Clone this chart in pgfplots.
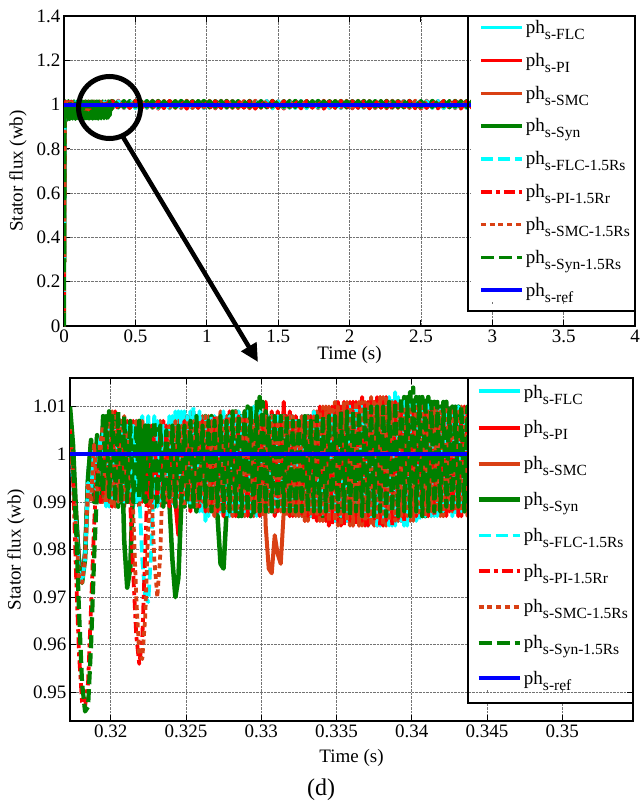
\documentclass[border=0pt]{standalone}
\usepackage{fontspec}
\setmainfont{Liberation Serif}
\usepackage{pgfplots}
\pgfplotsset{compat=1.18}
\usepackage{pgfplotstable}
\usetikzlibrary{arrows.meta}

\definecolor{cyanL}{rgb}{0,1,1}
\definecolor{redL}{rgb}{1,0,0}
\definecolor{smcL}{rgb}{0.85,0.25,0.08}
\definecolor{grnL}{rgb}{0,0.5,0}
\definecolor{bluL}{rgb}{0,0,1}

\newcommand{\lgd}[1]{ph\raisebox{-6bp}{\fontsize{15.5bp}{15.5bp}\selectfont #1}}

\pgfplotstableread{
t flc pi smc syn flcR piR smcR synR
0 0 0 0 0 0 0 0 0
0.006 0.99 0.99 0.99 0.99 0.99 0.99 0.99 0.99
0.01 1.012 0.978 1.013 1.015 0.977 1.014 0.978 0.936
0.02 0.978 1.013 0.977 0.930 1.012 0.978 1.013 1.014
0.03 1.013 0.977 1.012 1.016 0.978 1.013 0.977 0.928
0.04 0.977 1.014 0.978 0.934 1.013 0.977 1.012 1.015
0.05 1.012 0.978 1.013 1.014 0.977 1.014 0.978 0.937
0.06 0.978 1.013 0.977 0.936 1.012 0.978 1.013 1.014
0.07 1.013 0.977 1.012 1.015 0.978 1.013 0.977 0.938
0.08 0.977 1.012 0.978 0.935 1.013 0.977 1.012 1.015
0.09 1.012 0.978 1.013 1.014 0.977 1.014 0.978 0.937
0.10 0.978 1.013 0.977 0.938 1.012 0.978 1.013 1.014
0.11 1.013 0.977 1.012 1.015 0.978 1.013 0.977 0.936
0.12 0.977 1.014 0.978 0.937 1.013 0.977 1.012 1.015
0.13 1.012 0.978 1.013 1.014 0.977 1.014 0.978 0.938
0.14 0.978 1.013 0.977 0.936 1.012 0.978 1.013 1.014
0.15 1.013 0.977 1.012 1.015 0.978 1.013 0.977 0.937
0.16 0.977 1.012 0.978 0.938 1.013 0.977 1.012 1.015
0.17 1.012 0.978 1.013 1.014 0.977 1.014 0.978 0.936
0.18 0.978 1.013 0.977 0.937 1.012 0.978 1.013 1.014
0.19 1.013 0.977 1.012 1.015 0.978 1.013 0.977 0.938
0.20 0.977 1.014 0.978 0.936 1.013 0.977 1.012 1.015
0.21 1.012 0.978 1.013 1.014 0.977 1.014 0.978 0.937
0.22 0.978 1.013 0.977 0.938 1.012 0.978 1.013 1.014
0.23 1.013 0.977 1.012 1.015 0.978 1.013 0.977 0.937
0.24 0.977 1.012 0.978 0.936 1.013 0.977 1.012 1.015
0.25 1.012 0.978 1.013 1.014 0.977 1.014 0.978 0.938
0.26 0.978 1.013 0.977 0.937 1.012 0.978 1.013 1.014
0.27 1.013 0.977 1.012 1.015 0.978 1.013 0.977 0.936
0.28 0.977 1.014 0.978 0.938 1.013 0.977 1.012 1.015
0.29 1.012 0.978 1.013 1.014 0.977 1.014 0.978 0.937
0.30 0.978 1.013 0.977 0.939 1.012 0.978 1.013 1.014
0.31 1.013 0.977 1.012 1.015 0.978 1.013 0.977 0.940
0.32 0.977 1.012 0.978 0.950 1.013 0.977 1.012 1.015
0.33 1.012 0.980 1.013 1.014 0.980 1.014 0.980 0.975
0.34 1.016 0.984 1.015 1.017 0.984 1.016 0.986 0.989
0.38 0.985 1.018 0.986 0.990 1.016 0.981 1.017 1.016
0.42 1.015 0.983 1.016 1.016 0.985 1.015 0.985 0.988
0.46 0.984 1.017 0.985 0.989 1.017 0.984 1.016 1.017
0.50 1.016 0.985 1.014 1.017 0.983 1.017 0.986 0.990
0.54 0.986 1.016 0.986 0.988 1.015 0.980 1.018 1.016
0.58 1.017 0.984 1.015 1.016 0.985 1.016 0.984 0.989
0.62 0.984 1.018 0.985 0.990 1.016 0.984 1.016 1.017
0.66 1.015 0.981 1.016 1.017 0.984 1.015 0.986 0.988
0.70 0.985 1.017 0.986 0.989 1.017 0.983 1.017 1.016
0.74 1.016 0.984 1.015 1.016 0.982 1.017 0.985 0.990
0.78 0.986 1.016 0.984 0.988 1.016 0.985 1.016 1.017
0.82 1.017 0.983 1.016 1.017 0.985 1.016 0.986 0.989
0.86 0.984 1.018 0.985 0.990 1.015 0.981 1.017 1.016
0.90 1.015 0.985 1.015 1.016 0.984 1.015 0.984 0.988
0.94 0.985 1.017 0.986 0.989 1.017 0.984 1.016 1.017
0.98 1.016 0.984 1.016 1.017 0.983 1.017 0.986 0.990
1.02 0.986 1.016 0.985 0.988 1.016 0.983 1.018 1.016
1.06 1.017 0.982 1.015 1.016 0.985 1.016 0.985 0.989
1.10 0.984 1.018 0.986 0.990 1.016 0.984 1.016 1.017
1.14 1.015 0.985 1.016 1.017 0.984 1.015 0.986 0.988
1.18 0.985 1.017 0.984 0.989 1.017 0.982 1.017 1.016
1.22 1.016 0.984 1.015 1.016 0.983 1.017 0.984 0.990
1.26 0.986 1.016 0.986 0.988 1.015 0.985 1.016 1.017
1.30 1.017 0.983 1.016 1.017 0.985 1.016 0.986 0.989
1.34 0.984 1.018 0.985 0.990 1.016 0.981 1.017 1.016
1.38 1.015 0.985 1.015 1.016 0.984 1.015 0.985 0.988
1.42 0.985 1.017 0.986 0.989 1.017 0.984 1.016 1.017
1.46 1.016 0.984 1.016 1.017 0.982 1.017 0.986 0.990
1.50 0.986 1.016 0.984 0.988 1.016 0.983 1.018 1.016
1.54 1.017 0.981 1.015 1.016 0.985 1.016 0.984 0.989
1.58 0.984 1.018 0.986 0.990 1.016 0.984 1.016 1.017
1.62 1.015 0.985 1.016 1.017 0.984 1.015 0.986 0.988
1.66 0.985 1.017 0.985 0.989 1.017 0.982 1.017 1.016
1.70 1.016 0.984 1.015 1.016 0.983 1.017 0.985 0.990
1.74 0.986 1.016 0.986 0.988 1.015 0.985 1.016 1.017
1.78 1.017 0.983 1.016 1.017 0.985 1.016 0.986 0.989
1.82 0.984 1.018 0.984 0.990 1.016 0.981 1.017 1.016
1.86 1.015 0.985 1.015 1.016 0.984 1.015 0.984 0.988
1.90 0.985 1.017 0.986 0.989 1.017 0.984 1.016 1.017
1.94 1.016 0.984 1.016 1.017 0.983 1.017 0.986 0.990
1.98 0.986 1.016 0.985 0.988 1.016 0.983 1.018 1.016
2.02 1.017 0.982 1.015 1.016 0.985 1.016 0.985 0.989
2.06 0.984 1.018 0.986 0.990 1.016 0.984 1.016 1.017
2.10 1.015 0.985 1.016 1.017 0.984 1.015 0.986 0.988
2.14 0.985 1.017 0.984 0.989 1.017 0.982 1.017 1.016
2.18 1.016 0.984 1.015 1.016 0.983 1.017 0.984 0.990
2.22 0.986 1.016 0.986 0.988 1.015 0.985 1.016 1.017
2.26 1.017 0.983 1.016 1.017 0.985 1.016 0.986 0.989
2.30 0.984 1.018 0.985 0.990 1.016 0.981 1.017 1.016
2.34 1.015 0.985 1.015 1.016 0.984 1.015 0.985 0.988
2.38 0.985 1.017 0.986 0.989 1.017 0.984 1.016 1.017
2.42 1.016 0.984 1.016 1.017 0.982 1.017 0.986 0.990
2.46 0.986 1.016 0.984 0.988 1.016 0.983 1.018 1.016
2.50 1.017 0.981 1.015 1.016 0.985 1.016 0.984 0.989
2.54 0.984 1.018 0.986 0.990 1.016 0.984 1.016 1.017
2.58 1.015 0.985 1.016 1.017 0.984 1.015 0.986 0.988
2.62 0.985 1.017 0.985 0.989 1.017 0.982 1.017 1.016
2.66 1.016 0.984 1.015 1.016 0.983 1.017 0.985 0.990
2.70 0.986 1.016 0.986 0.988 1.015 0.985 1.016 1.017
2.74 1.017 0.983 1.016 1.017 0.985 1.016 0.986 0.989
2.78 0.984 1.018 0.984 0.990 1.016 0.981 1.017 1.016
2.82 1.015 0.985 1.015 1.016 0.984 1.015 0.984 0.988
2.86 0.985 1.017 0.986 0.989 1.017 0.984 1.016 1.017
2.90 1.016 0.984 1.016 1.017 0.983 1.017 0.986 0.990
}\topdata

\pgfplotstableread{
t flc pi smc syn flcR piR smcR synR
0.3173 1.006 1.009 1.008 1.010 1.004 1.005 1.006 1.008
0.3175 0.996 0.998 0.997 1.002 0.994 0.995 0.996 0.998
0.3177 0.987 0.988 0.986 0.988 0.985 0.975 0.984 0.985
0.3179 0.978 0.978 0.977 0.976 0.975 0.958 0.974 0.967
0.3181 0.975 0.974 0.974 0.973 0.973 0.948 0.973 0.952
0.3183 0.980 0.979 0.979 0.978 0.978 0.947 0.978 0.946
0.3185 0.996 0.995 0.994 0.995 0.994 0.952 0.994 0.947
0.3187 1.002 1.003 1.001 1.003 0.992 0.968 0.990 0.960
0.3189 0.991 0.990 0.992 0.990 1.001 0.985 1.002 0.978
0.3191 1.004 1.003 1.004 1.004 0.990 0.998 0.991 0.993
0.3193 0.990 0.991 0.990 0.991 1.003 0.990 1.002 1.000
0.3195 0.991 1.006 0.990 1.008 1.005 0.991 1.006 0.992
0.3197 1.006 0.990 1.007 0.990 0.989 1.005 0.990 1.008
0.3199 0.989 1.008 0.990 1.009 1.006 0.990 1.007 0.991
0.3201 1.007 0.989 1.009 0.991 0.990 1.007 0.989 1.008
0.3203 0.990 1.009 0.989 1.008 1.005 0.991 1.008 0.990
0.3205 1.007 0.990 1.007 0.989 0.990 1.006 0.990 1.009
0.3207 0.991 1.007 0.990 1.006 1.006 0.990 1.007 0.990
0.3209 1.007 0.989 1.008 0.982 0.990 1.004 0.990 1.008
0.3211 0.990 1.007 0.991 0.972 1.006 0.990 1.005 0.990
0.3213 1.006 0.990 1.007 0.976 0.991 0.990 0.991 1.007
0.3215 0.989 1.007 0.990 0.994 1.006 0.975 0.988 0.990
0.3217 1.007 0.991 1.007 0.990 0.990 0.962 0.970 1.006
0.3219 0.990 1.006 0.989 1.007 0.992 0.956 0.958 0.991
0.3221 1.008 0.990 1.007 0.991 0.978 0.961 0.957 1.005
0.3223 0.991 1.006 0.990 1.006 0.970 0.980 0.966 0.990
0.3225 1.008 0.989 1.006 0.990 0.969 1.000 0.985 1.006
0.3227 0.990 1.006 0.991 1.005 0.980 0.990 0.993 0.991
0.3229 1.008 0.990 1.006 0.989 0.998 1.006 0.978 1.007
0.3231 0.989 1.006 0.990 1.006 1.007 0.990 0.970 0.990
0.3233 1.007 0.991 1.007 0.990 0.990 1.005 0.979 1.006
0.3235 0.990 1.007 0.989 1.005 1.006 0.991 1.000 0.989
0.3237 1.006 0.990 1.006 0.990 0.991 1.006 0.990 1.005
0.3239 0.991 1.006 0.990 0.990 1.008 0.989 1.006 0.991
0.3241 1.008 0.990 1.006 0.978 0.989 1.006 0.990 1.006
0.3243 0.990 0.990 0.989 0.970 1.009 0.990 1.007 0.989
0.3245 1.009 0.983 1.007 0.974 0.990 1.006 0.991 1.006
0.3247 0.989 0.992 0.990 0.990 1.009 0.990 1.006 0.990
0.3249 1.009 0.990 1.007 0.989 0.990 1.007 0.989 1.006
0.3251 0.990 1.008 0.991 1.007 1.008 0.991 1.007 0.990
0.3253 1.009 0.988 1.007 0.989 0.989 1.007 0.990 1.007
0.3255 0.989 1.009 0.990 1.008 1.010 0.990 1.007 0.989
0.3257 1.008 0.989 1.008 0.988 0.990 1.007 0.989 1.008
0.3259 0.988 1.008 0.990 1.007 1.009 0.989 1.007 0.990
0.3261 1.008 0.990 1.008 0.989 0.988 1.007 0.990 1.006
0.3263 0.986 1.007 0.988 1.008 1.008 0.988 1.008 0.989
0.3265 1.007 0.989 1.008 0.988 0.987 1.007 0.988 1.007
0.3267 0.988 1.008 0.989 1.008 1.008 0.989 1.007 0.988
0.3269 1.008 0.987 1.007 0.988 0.989 1.008 0.987 1.007
0.3271 0.987 1.007 0.988 0.987 1.007 0.988 1.008 0.989
0.3273 1.008 0.988 1.009 0.977 0.988 1.007 0.988 1.008
0.3275 0.988 1.008 0.987 0.976 1.009 0.987 1.007 0.988
0.3277 1.008 0.988 1.008 0.988 0.987 1.008 0.988 1.007
0.3279 0.987 1.009 0.988 1.008 1.008 0.988 1.008 0.988
0.3281 1.008 0.987 1.008 0.988 0.988 1.007 0.987 1.009
0.3283 0.988 1.008 0.987 1.009 1.009 0.987 1.009 0.988
0.3285 1.009 0.988 1.007 0.987 0.988 1.008 0.988 1.008
0.3287 0.987 1.008 0.988 1.008 1.008 0.988 1.008 0.987
0.3289 1.008 0.987 1.009 0.988 0.987 1.009 0.987 1.009
0.3291 0.988 1.009 0.988 1.010 1.009 0.987 1.008 0.988
0.3293 1.008 0.988 1.008 0.987 0.988 1.008 0.988 1.010
0.3295 0.987 1.008 0.987 1.009 1.010 0.988 1.007 0.987
0.3297 1.009 0.988 1.008 0.988 0.987 1.008 0.988 1.011
0.3299 0.988 1.009 0.988 1.012 1.009 0.987 1.008 0.988
0.3301 1.008 0.988 1.008 0.988 0.988 1.008 0.987 1.011
0.3303 0.988 1.011 0.985 1.009 1.008 0.988 1.008 0.988
0.3305 1.008 0.988 0.976 0.988 0.988 1.007 0.988 1.008
0.3307 0.988 1.009 0.975 1.008 1.008 0.988 1.008 0.988
0.3309 1.008 0.987 0.983 0.988 0.988 1.007 0.988 1.008
0.3311 0.988 1.009 0.979 1.007 1.008 0.988 1.007 0.989
0.3313 1.008 0.988 0.977 0.989 0.988 1.007 0.988 1.008
0.3315 0.988 1.011 0.988 1.008 1.008 0.988 1.008 0.988
0.3317 1.008 0.988 1.008 0.988 0.988 1.008 0.987 1.008
0.3319 0.987 1.009 0.987 1.007 1.008 0.987 1.008 0.988
0.3321 1.008 0.987 1.008 0.988 0.988 1.007 0.987 1.007
0.3323 0.988 1.008 0.987 1.006 1.007 0.988 1.007 0.988
0.3325 1.007 0.987 1.007 0.988 0.987 1.007 0.987 1.007
0.3327 0.987 1.008 0.987 1.007 1.008 0.987 1.008 0.988
0.3329 1.008 0.986 1.008 0.988 0.988 1.008 0.986 1.008
0.3331 0.988 1.008 0.986 1.008 1.008 0.987 1.008 0.988
0.3333 1.008 0.987 1.008 0.988 0.987 1.008 0.987 1.007
0.3335 0.987 1.009 0.987 1.007 1.009 0.986 1.008 0.988
0.3337 1.008 0.986 1.009 0.988 0.988 1.008 0.987 1.008
0.3339 0.988 1.010 0.986 1.008 1.008 0.987 1.009 0.988
0.3341 1.009 0.986 1.010 0.987 0.987 1.009 0.986 1.008
0.3343 0.987 1.010 0.986 1.007 1.009 0.986 1.010 0.988
0.3345 1.009 0.985 1.010 0.988 0.987 1.009 0.986 1.008
0.3347 0.987 1.010 0.986 1.008 1.009 0.985 1.010 0.988
0.3349 1.009 0.986 1.011 0.988 0.986 1.010 0.986 1.008
0.3351 0.986 1.011 0.985 1.009 1.009 0.986 1.010 0.988
0.3353 1.010 0.985 1.010 0.987 0.987 1.010 0.985 1.009
0.3355 0.987 1.011 0.986 1.008 1.010 0.985 1.011 0.988
0.3357 1.009 0.986 1.011 0.988 0.986 1.010 0.986 1.009
0.3359 0.986 1.011 0.985 1.009 1.010 0.986 1.010 0.987
0.3361 1.010 0.985 1.011 0.987 0.986 1.011 0.985 1.009
0.3363 0.986 1.011 0.986 1.009 1.010 0.985 1.011 0.988
0.3365 1.010 0.985 1.011 0.988 0.986 1.010 0.985 1.009
0.3367 0.986 1.012 0.985 1.009 1.010 0.986 1.011 0.987
0.3369 1.010 0.985 1.011 0.987 0.986 1.011 0.986 1.010
0.3371 0.985 1.011 0.986 1.010 1.011 0.985 1.011 0.988
0.3373 1.011 0.986 1.012 0.988 0.986 1.011 0.985 1.010
0.3375 0.986 1.011 0.985 1.010 1.011 0.986 1.011 0.987
0.3377 1.011 0.985 1.011 0.987 0.985 1.012 0.986 1.010
0.3379 0.985 1.012 0.986 1.010 1.011 0.985 1.012 0.988
0.3381 1.011 0.985 1.012 0.988 0.986 1.011 0.985 1.010
0.3383 0.986 1.012 0.985 1.010 1.012 0.986 1.012 0.987
0.3385 1.012 0.986 1.011 0.987 0.985 1.011 0.986 1.011
0.3387 0.985 1.011 0.986 1.011 1.012 0.985 1.011 0.988
0.3389 1.013 0.986 1.011 0.988 0.985 1.011 0.986 1.011
0.3391 0.986 1.011 0.986 1.011 1.012 0.986 1.011 0.987
0.3393 1.011 0.986 1.010 0.987 0.986 1.010 0.987 1.012
0.3395 0.985 1.010 0.987 1.012 1.011 0.986 1.010 0.988
0.3397 1.011 0.986 1.010 0.988 0.985 1.010 0.987 1.012
0.3399 0.986 1.010 0.986 1.013 1.011 0.987 1.010 0.987
0.3401 1.010 0.987 1.010 0.987 0.986 1.010 0.986 1.014
0.3403 0.986 1.010 0.987 1.012 1.011 0.987 1.010 0.988
0.3405 1.011 0.987 1.010 0.988 0.986 1.010 0.987 1.012
0.3407 0.987 1.010 0.987 1.012 1.010 0.987 1.010 0.987
0.3409 1.010 0.987 1.009 0.987 0.987 1.010 0.987 1.012
0.3411 0.987 1.010 0.987 1.012 1.011 0.987 1.009 0.988
0.3413 1.010 0.987 1.010 0.988 0.987 1.009 0.988 1.011
0.3415 0.987 1.009 0.988 1.011 1.010 0.987 1.010 0.988
0.3417 1.010 0.988 1.009 0.988 0.987 1.010 0.988 1.011
0.3419 0.988 1.009 0.987 1.010 1.010 0.988 1.009 0.988
0.3421 1.009 0.987 1.010 0.988 0.988 1.009 0.987 1.011
0.3423 0.988 1.010 0.988 1.011 1.009 0.987 1.010 0.989
0.3425 1.009 0.988 1.009 0.989 0.988 1.010 0.988 1.010
0.3427 0.987 1.009 0.988 1.010 1.009 0.988 1.009 0.988
0.3429 1.010 0.988 1.009 0.988 0.987 1.009 0.988 1.010
0.3431 0.988 1.009 0.987 1.010 1.010 0.987 1.009 0.989
0.3433 1.009 0.987 1.010 0.989 0.988 1.009 0.988 1.010
0.3435 0.988 1.010 0.988 1.009 1.009 0.988 1.010 0.988
0.3437 1.009 0.988 1.009 0.988 0.988 1.010 0.987 1.010
0.3439 0.987 1.009 0.988 1.010 1.010 0.988 1.009 0.989
0.3441 1.010 0.987 1.009 0.989 0.987 1.009 0.988 1.009
0.3443 0.988 1.010 0.988 1.009 1.009 0.987 1.010 0.988
0.3445 1.009 0.988 1.009 0.988 0.988 1.009 0.988 1.010
}\botdata

\pgfplotsset{
  legend image code/.code={\path[draw=none] (-7bp,0bp) -- (41bp,0bp); \draw[#1] (0bp,0bp) -- (41bp,0bp);},
  mystyle/.style={
    scale only axis,
    axis line style={black, line width=1.2bp},
    tick style={black, line width=0.8bp},
    major tick length=6bp,
    tick align=inside,
    grid=major,
    major grid style={densely dotted, black!55, line width=0.6bp},
    ticklabel style={font=\fontsize{19bp}{19bp}\selectfont},
    /pgf/number format/assume math mode=true,
    scaled ticks=false,
    legend cell align=left,
    every axis plot/.append style={line join=round},
  },
}

\begin{document}
\begin{tikzpicture}
\path[use as bounding box] (0,0) rectangle (642bp,-804bp);

% ---------------- top axis ----------------
\begin{axis}[mystyle,
  at={(64bp,-326bp)}, anchor=south west,
  width=571bp, height=310bp,
  xmin=0, xmax=4, ymin=0, ymax=1.4,
  xtick={0,0.5,1,1.5,2,2.5,3,3.5,4},
  ytick={0,0.2,0.4,0.6,0.8,1,1.2,1.4},
  xlabel={Time (s)}, ylabel={Stator flux (wb)},
  every axis x label/.style={at={(rel axis cs:0.5,0)}, yshift=-29bp, anchor=center, font=\fontsize{19bp}{19bp}\selectfont},
  every axis y label/.style={at={(rel axis cs:0,0.5)}, xshift=-46bp, rotate=90, anchor=center, font=\fontsize{19bp}{19bp}\selectfont},
  legend style={at={(1,1)}, anchor=north east, draw=none, fill=white,
    font=\fontsize{19bp}{19bp}\selectfont, row sep=14.2bp},
]
\addplot[cyanL, line width=3.5bp] table[x=t,y=flc]{\topdata};
\addlegendentry{\lgd{s-FLC}}
\addplot[redL, line width=3.5bp] table[x=t,y=pi]{\topdata};
\addlegendentry{\lgd{s-PI}}
\addplot[smcL, line width=3.5bp] table[x=t,y=smc]{\topdata};
\addlegendentry{\lgd{s-SMC}}
\addplot[grnL, line width=4bp] table[x=t,y=syn]{\topdata};
\addlegendentry{\lgd{s-Syn}}
\addplot[cyanL, line width=3.5bp, dash pattern=on 12bp off 5bp] table[x=t,y=flcR]{\topdata};
\addlegendentry{\lgd{s-FLC-1.5Rs}}
\addplot[redL, line width=3.5bp, dash pattern=on 11bp off 4bp on 4bp off 4bp] table[x=t,y=piR]{\topdata};
\addlegendentry{\lgd{s-PI-1.5Rr}}
\addplot[smcL, line width=3.5bp, dash pattern=on 5bp off 3.7bp] table[x=t,y=smcR]{\topdata};
\addlegendentry{\lgd{s-SMC-1.5Rs}}
\addplot[grnL, line width=3.5bp, dash pattern=on 13bp off 5bp] table[x=t,y=synR]{\topdata};
\addlegendentry{\lgd{s-Syn-1.5Rs}}
\addplot[bluL, line width=4bp] coordinates {(0,1) (4,1)};
\addlegendentry{\lgd{s-ref}}
\end{axis}

% ---------------- bottom axis ----------------
\begin{axis}[mystyle,
  at={(70bp,-721bp)}, anchor=south west,
  width=563bp, height=343bp,
  xmin=0.3173, xmax=0.3547, ymin=0.944, ymax=1.016,
  xtick={0.32,0.325,0.33,0.335,0.34,0.345,0.35},
  xticklabels={0.32,0.325,0.33,0.335,0.34,0.345,0.35},
  ytick={0.95,0.96,0.97,0.98,0.99,1,1.01},
  yticklabels={0.95,0.96,0.97,0.98,0.99,1,1.01},
  xlabel={Time (s)}, ylabel={Stator flux (wb)},
  every axis x label/.style={at={(rel axis cs:0.5,0)}, yshift=-37bp, anchor=center, font=\fontsize{19bp}{19bp}\selectfont},
  every axis y label/.style={at={(rel axis cs:0,0.5)}, xshift=-54bp, rotate=90, anchor=center, font=\fontsize{19bp}{19bp}\selectfont},
  legend style={at={(1,1)}, anchor=north east, draw=none, fill=white,
    font=\fontsize{19bp}{19bp}\selectfont, row sep=17.1bp},
]
\addplot[cyanL, line width=4bp] table[x=t,y=flc]{\botdata};
\addlegendentry{\rule{0pt}{16bp}\lgd{s-FLC}}
\addplot[redL, line width=4bp] table[x=t,y=pi]{\botdata};
\addlegendentry{\lgd{s-PI}}
\addplot[smcL, line width=4bp] table[x=t,y=smc]{\botdata};
\addlegendentry{\lgd{s-SMC}}
\addplot[grnL, line width=4.5bp] table[x=t,y=syn]{\botdata};
\addlegendentry{\lgd{s-Syn}}
\addplot[cyanL, line width=3.8bp, dash pattern=on 12bp off 5bp] table[x=t,y=flcR]{\botdata};
\addlegendentry{\lgd{s-FLC-1.5Rs}}
\addplot[redL, line width=3.8bp, dash pattern=on 11bp off 4bp on 4bp off 4bp] table[x=t,y=piR]{\botdata};
\addlegendentry{\lgd{s-PI-1.5Rr}}
\addplot[smcL, line width=3.8bp, dash pattern=on 5bp off 3.7bp] table[x=t,y=smcR]{\botdata};
\addlegendentry{\lgd{s-SMC-1.5Rs}}
\addplot[grnL, line width=4.2bp, dash pattern=on 13bp off 5bp] table[x=t,y=synR]{\botdata};
\addlegendentry{\lgd{s-Syn-1.5Rs}}
\addplot[bluL, line width=4bp] coordinates {(0.3173,1) (0.3547,1)};
\addlegendentry{\lgd{s-ref}}
\end{axis}

% legend frames (the legend boxes of the two axes)
\fill[white] (469bp,-304bp) rectangle (634bp,-311bp);
\draw[line width=1.2bp] (468bp,-16bp) rectangle (635bp,-311bp);
\fill[white] (469bp,-693bp) rectangle (632bp,-703bp);
\draw[line width=1.2bp] (468bp,-378bp) rectangle (633bp,-703bp);

% annotation: zoom circle and arrow
\draw[line width=5bp] (109.5bp,-107.5bp) circle (31bp);
\draw[line width=4.5bp, -{Triangle[length=18bp,width=17bp]}] (123bp,-137bp) -- (258bp,-362bp);

\node[font=\fontsize{24bp}{24bp}\selectfont] at (321bp,-790bp) {(d)};
\end{tikzpicture}
\end{document}
